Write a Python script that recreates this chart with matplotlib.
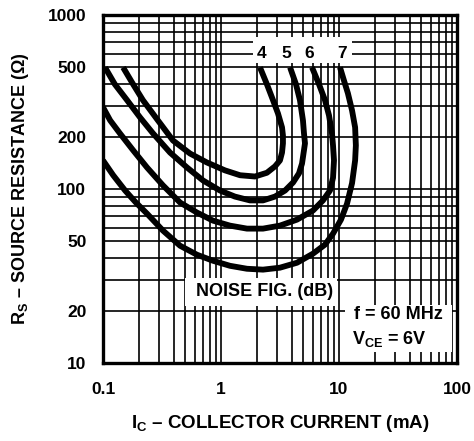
import numpy as np
import matplotlib
matplotlib.use('Agg')
import matplotlib.pyplot as plt
from matplotlib.ticker import LogLocator, NullFormatter, FixedLocator, FixedFormatter
from matplotlib.patches import Rectangle

plt.rcParams['font.family'] = ['Liberation Sans', 'DejaVu Sans']
plt.rcParams['font.weight'] = 'bold'
plt.rcParams['mathtext.fontset'] = 'custom'
plt.rcParams['mathtext.bf'] = 'Liberation Sans:bold'
plt.rcParams['mathtext.rm'] = 'Liberation Sans:bold'
plt.rcParams['mathtext.default'] = 'bf'

# noise figure contours (Ic in mA, Rs in ohm)
nf4_ic = [0.148, 0.180, 0.218, 0.292, 0.392, 0.546, 0.761, 1.08, 1.45, 1.94, 2.45,
          2.87, 3.16, 3.29, 3.35, 3.35, 3.29, 3.04, 2.76, 2.45, 2.14]
nf4_rs = [500, 400, 324, 248, 190, 160, 142, 128, 120, 118, 124,
          135, 146, 162, 183, 203, 226, 272, 324, 400, 500]

nf5_ic = [0.104, 0.126, 0.160, 0.206, 0.265, 0.370, 0.515, 0.704, 0.981, 1.31, 1.76, 2.27,
          2.87, 3.49, 4.08, 4.58, 4.86, 5.05, 5.15, 5.05, 4.95, 4.67, 4.32, 3.85]
nf5_rs = [500, 400, 324, 258, 209, 162, 133, 112, 98, 90.5, 86, 86,
          90.5, 98, 109, 123, 140, 167, 183, 209, 248, 324, 400, 500]

nf6_ic = [0.1, 0.115, 0.139, 0.180, 0.236, 0.322, 0.450, 0.626, 0.855, 1.19, 1.66, 2.27, 3.16,
          4.41, 6.02, 7.32, 8.39, 8.90, 9.07, 8.90, 8.72, 8.23, 7.61, 6.77, 5.91]
nf6_rs = [295, 248, 209, 167, 133, 105, 83.6, 73.2, 65.8, 61.6, 59.2, 59.2, 61.6,
          66.7, 75.2, 86, 98, 116, 146, 178, 209, 265, 324, 400, 500]

nf7_ic = [0.1, 0.122, 0.154, 0.190, 0.236, 0.322, 0.450, 0.626, 0.855, 1.19, 1.66, 2.27, 3.16,
          4.41, 6.02, 7.61, 8.90, 10.4, 11.7, 12.9, 13.7, 13.9, 13.7, 12.9, 11.9, 11.0, 10.2]
nf7_rs = [146, 120, 98, 83.6, 72.2, 57.7, 47.2, 41.9, 38.7, 36.2, 34.8, 34.4, 35.3,
          37.7, 42.5, 47.9, 55.4, 66.7, 82.4, 108, 146, 178, 226, 283, 355, 422, 500]

curve_labels = ['4', '5', '6', '7']
label_ic = [2.22, 3.6, 5.6, 10.6]

x_ticks = [0.1, 1, 10, 100]
x_ticklabels = ['0.1', '1', '10', '100']
y_ticks = [10, 20, 50, 100, 200, 500, 1000]
y_ticklabels = ['10', '20', '50', '100', '200', '500', '1000']

fig = plt.figure(figsize=(4.74, 4.41), dpi=100)
ax = fig.add_axes([0.2173, 0.1769, 0.7468, 0.789])
ax.set_xscale('log')
ax.set_yscale('log')
ax.set_xlim(0.1, 100)
ax.set_ylim(10, 1000)

ax.xaxis.set_major_locator(FixedLocator(x_ticks))
ax.xaxis.set_major_formatter(FixedFormatter(x_ticklabels))
ax.yaxis.set_major_locator(FixedLocator(y_ticks))
ax.yaxis.set_major_formatter(FixedFormatter(y_ticklabels))
ax.xaxis.set_minor_locator(LogLocator(subs=np.arange(2, 10)))
ax.yaxis.set_minor_locator(LogLocator(subs=np.arange(2, 10)))
ax.xaxis.set_minor_formatter(NullFormatter())
ax.yaxis.set_minor_formatter(NullFormatter())
ax.tick_params(which='both', length=0)
ax.tick_params(axis='x', pad=14, labelsize=12.5)
ax.tick_params(axis='y', pad=12, labelsize=12.5)
ax.grid(which='both', color='black', lw=1.2, zorder=1)
ax.set_axisbelow(True)
for s in ax.spines.values():
    s.set_linewidth(2.4)

# white boxes behind the labels
for (x0, y0, w, h) in [(0.424, 0.862, 0.279, 0.075),
                       (0.232, 0.164, 0.429, 0.080),
                       (0.684, 0.032, 0.302, 0.135)]:
    ax.add_patch(Rectangle((x0, y0), w, h, transform=ax.transAxes,
                           facecolor='white', edgecolor='none', zorder=2))

for ic, rs in [(nf4_ic, nf4_rs), (nf5_ic, nf5_rs), (nf6_ic, nf6_rs), (nf7_ic, nf7_rs)]:
    ax.plot(ic, rs, color='black', lw=4.2, solid_joinstyle='round',
            solid_capstyle='butt', zorder=3)

for lab, xi in zip(curve_labels, label_ic):
    ax.text(xi, 600, lab, fontsize=12.5, fontweight='bold', ha='center',
            va='center', zorder=4)

ax.text(0.455, 0.205, 'NOISE FIG. (dB)', transform=ax.transAxes, fontsize=13,
        fontweight='bold', ha='center', va='center', zorder=4)
ax.text(0.835, 0.14, 'f = 60 MHz', transform=ax.transAxes, fontsize=13,
        fontweight='bold', ha='center', va='center', zorder=4)
ax.text(0.81, 0.07, r'V$_{CE}$ = 6V', transform=ax.transAxes, fontsize=13,
        fontweight='bold', ha='center', va='center', zorder=4)

ax.set_xlabel(r'I$_{C}$ – COLLECTOR CURRENT (mA)', fontsize=13.5,
              fontweight='bold', labelpad=11)
ax.set_ylabel(r'R$_{S}$ – SOURCE RESISTANCE (Ω)', fontsize=13,
              fontweight='bold', labelpad=12)

fig.savefig('out.png', dpi=100)
